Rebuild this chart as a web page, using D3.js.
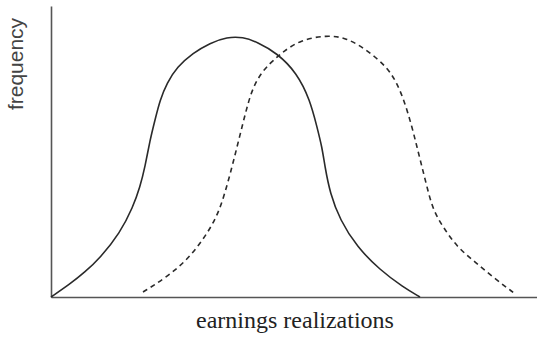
<!DOCTYPE html>
<html>
<head>
<meta charset="utf-8">
<script src="https://cdn.jsdelivr.net/npm/d3@7"></script>
<style>
  html, body { margin: 0; padding: 0; background: #fff; }
  #wrap { position: relative; width: 537px; height: 341px; }
  #wrap svg { position: absolute; left: 0; top: 0; display: block; }
  #xlab { position: absolute; left: 95px; width: 400px; top: 308px; text-align: center;
          font-family: "Liberation Serif", "Times New Roman", serif; font-size: 24px; line-height: 24px;
          color: #222; white-space: nowrap; }
</style>
</head>
<body>
<div id="wrap">
<svg id="chart" width="537" height="341"></svg>
<div id="xlab"></div>
</div>
<script>
// Earnings realization (x) vs frequency (y), arbitrary units
const solidX = [0, 19, 34, 49, 69, 82, 89, 94, 99, 104, 109, 116, 126, 142, 159, 176, 192, 206, 226, 246, 259, 266, 271, 274, 279, 289, 306, 329, 352, 369];
const solidY = [0, 13, 25, 39, 64, 90, 110, 130, 157, 177, 197, 214, 230, 244, 254, 260, 260, 255, 244, 224, 197, 170, 150, 130, 104, 77, 50, 27, 10, 0];
const dashedX = [92, 116, 136, 152, 166, 174, 181, 186, 191, 196, 202, 212, 226, 232, 249, 276, 296, 316, 336, 346, 354, 361, 366, 371, 376, 382, 392, 406, 424, 443, 463];
const dashedY = [5, 20, 37, 57, 80, 104, 130, 150, 170, 190, 210, 227, 240, 245, 257, 262, 259, 247, 230, 214, 194, 170, 150, 130, 110, 87, 70, 50, 35, 19, 4];
const xLabel = "earnings realizations";
const yLabel = "frequency";

const svg = d3.select("#chart");
const margin = { left: 51, top: 6, right: 0, bottom: 44 };
const W = 537, H = 341;

d3.select("#xlab").text(xLabel);

svg.append("text")
  .attr("transform", "translate(23,64) rotate(-90)")
  .attr("text-anchor", "middle")
  .style("font-family", '"Liberation Sans"')
  .style("font-size", "21px")
  .attr("fill", "#444")
  .text(yLabel);

const x = d3.scaleLinear().domain([0, 486]).range([margin.left, W - margin.right]);
const y = d3.scaleLinear().domain([0, 291]).range([H - margin.bottom, margin.top]);

const solid = solidX.map((v, i) => [v, solidY[i]]);
const dashed = dashedX.map((v, i) => [v, dashedY[i]]);

const line = d3.line().x(d => x(d[0])).y(d => y(d[1])).curve(d3.curveBasis);

// axes (no ticks)
svg.append("g")
  .attr("transform", `translate(0,${y(0)})`)
  .call(d3.axisBottom(x).ticks(0).tickSizeOuter(0));
svg.append("g")
  .attr("transform", `translate(${x(0)},0)`)
  .call(d3.axisLeft(y).ticks(0).tickSizeOuter(0));
svg.selectAll(".domain").attr("stroke", "#555").attr("stroke-width", 1.6);

svg.append("path").datum(solid)
  .attr("d", line).attr("fill", "none")
  .attr("stroke", "#2a2a2a").attr("stroke-width", 1.6);

svg.append("path").datum(dashed)
  .attr("d", line).attr("fill", "none")
  .attr("stroke", "#2a2a2a").attr("stroke-width", 1.6)
  .attr("stroke-dasharray", "5,4");
</script>
</body>
</html>
